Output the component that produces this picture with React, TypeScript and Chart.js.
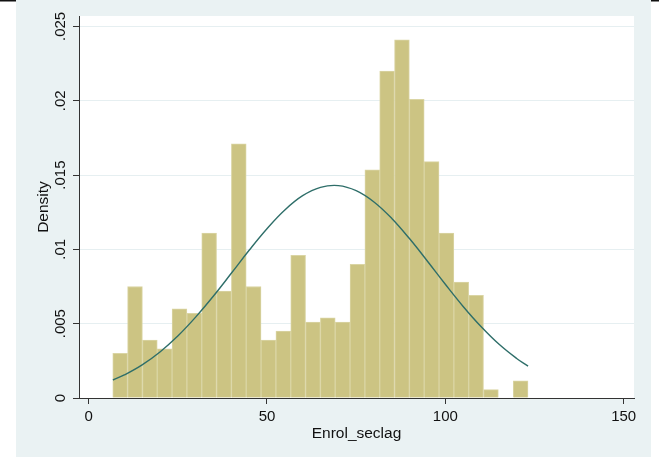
import React, { useEffect, useRef } from "react";
import { Chart, registerables } from "chart.js";

Chart.register(...registerables);

// Histogram bins (midpoints of Enrol_seclag bins) and densities
const binMids = [8.84, 13.0, 17.16, 21.31, 25.47, 29.63, 33.79, 37.95, 42.1, 46.26, 50.42, 54.58, 58.74, 62.89, 67.05, 71.21, 75.37, 79.53, 83.68, 87.84, 92.0, 96.16, 100.32, 104.47, 108.63, 112.79, 116.95, 121.11];
const binDensity = [0.0030, 0.0075, 0.0039, 0.0033, 0.0060, 0.0057, 0.0111, 0.0072, 0.0171, 0.0075, 0.0039, 0.0045, 0.0096, 0.0051, 0.0054, 0.0051, 0.0090, 0.01535, 0.0220, 0.0241, 0.0201, 0.0159, 0.0111, 0.0078, 0.0069, 0.00056, null, 0.00116];

// Normal density overlay
const curveX = [6.8, 10, 15, 20, 25, 30, 35, 40, 45, 50, 55, 60, 65, 70, 75, 80, 85, 90, 95, 100, 105, 110, 115, 120, 123.2];
const curveY = [0.00121, 0.00155, 0.00223, 0.0031, 0.00417, 0.00544, 0.00686, 0.00839, 0.00994, 0.01139, 0.01265, 0.01361, 0.01417, 0.01429, 0.01395, 0.01319, 0.01208, 0.01071, 0.0092, 0.00765, 0.00616, 0.00481, 0.00363, 0.00266, 0.00214];

const xTickValues = [0, 50, 100, 150];
const xTickLabels = ["0", "50", "100", "150"];
const yTickValues = [0, 0.005, 0.01, 0.015, 0.02, 0.025];
const yTickLabels = ["0", ".005", ".01", ".015", ".02", ".025"];
const xTitle = "Enrol_seclag";
const yTitle = "Density";

const FONT = '"Liberation Sans", Arial, Helvetica, sans-serif';
const PANEL = "#EAF2F3";

const bgPlugin = {
  id: "stataBg",
  beforeDraw(chart: any) {
    const { ctx, width, height, chartArea } = chart;
    ctx.save();
    ctx.fillStyle = "#ffffff";
    ctx.fillRect(0, 0, width, height);
    ctx.fillStyle = "#111111";
    ctx.fillRect(0, 0, width, 1.5);
    ctx.fillStyle = PANEL;
    ctx.fillRect(16, 0, 635, height);
    ctx.fillStyle = "#ffffff";
    ctx.fillRect(chartArea.left, chartArea.top, chartArea.right - chartArea.left, chartArea.bottom - chartArea.top);
    ctx.restore();
  },
};

const labelPlugin = {
  id: "stataLabels",
  afterDraw(chart: any) {
    const { ctx, chartArea } = chart;
    const xs = chart.scales.x;
    const ys = chart.scales.y;
    ctx.save();
    ctx.fillStyle = "#111111";
    ctx.font = `15px ${FONT}`;
    ctx.textAlign = "center";
    ctx.textBaseline = "alphabetic";
    xTickValues.forEach((v, i) => {
      ctx.fillText(xTickLabels[i], xs.getPixelForValue(v), 421);
    });
    yTickValues.forEach((v, i) => {
      ctx.save();
      ctx.translate(65, ys.getPixelForValue(v));
      ctx.rotate(-Math.PI / 2);
      ctx.fillText(yTickLabels[i], 0, 0);
      ctx.restore();
    });
    ctx.font = `15.5px ${FONT}`;
    ctx.fillText(xTitle, (chartArea.left + chartArea.right) / 2, 438);
    ctx.save();
    ctx.translate(47.5, (chartArea.top + chartArea.bottom) / 2);
    ctx.rotate(-Math.PI / 2);
    ctx.fillText(yTitle, 0, 0);
    ctx.restore();
    ctx.restore();
  },
};

export default function App() {
  const ref = useRef<HTMLCanvasElement | null>(null);
  useEffect(() => {
    if (!ref.current) return;
    const chart = new Chart(ref.current, {
      type: "bar",
      data: {
        datasets: [
          {
            type: "line",
            data: curveX.map((x, i) => ({ x, y: curveY[i] })),
            borderColor: "#2E6E69",
            borderWidth: 1.4,
            pointRadius: 0,
            tension: 0.4,
            fill: false,
            order: 0,
          } as any,
          {
            type: "bar",
            data: binMids.map((x, i) => ({ x, y: binDensity[i] })),
            backgroundColor: "#CCC483",
            borderColor: "#DAD5A4",
            borderWidth: 1,
            borderSkipped: "start",
            categoryPercentage: 1,
            barPercentage: 1,
            order: 1,
          } as any,
        ],
      },
      options: {
        responsive: false,
        animation: false,
        devicePixelRatio: 1,
        layout: { padding: { left: 0, top: 16, right: 25, bottom: 0 } },
        plugins: { legend: { display: false }, tooltip: { enabled: false } },
        scales: {
          x: {
            type: "linear",
            min: -2.7,
            max: 152.9,
            offset: false,
            afterFit: (s: any) => {
              s.height = 59;
            },
            afterBuildTicks: (s: any) => {
              s.ticks = xTickValues.map((value) => ({ value }));
            },
            ticks: { display: false },
            grid: {
              offset: false,
              drawOnChartArea: false,
              drawTicks: true,
              tickLength: 6,
              tickColor: "#333333",
              tickWidth: 1,
            },
            border: { display: true, color: "#333333", width: 1 },
          },
          y: {
            type: "linear",
            min: 0,
            max: 0.0257,
            afterFit: (s: any) => {
              s.width = 79;
            },
            afterBuildTicks: (s: any) => {
              s.ticks = yTickValues.map((value) => ({ value }));
            },
            ticks: { display: false },
            grid: {
              offset: false,
              color: (c: any) => (c.tick && c.tick.value === 0 ? "rgba(0,0,0,0)" : "#E6EFF1"),
              lineWidth: 1,
              drawTicks: true,
              tickLength: 6,
              tickColor: "#333333",
              tickWidth: 1,
            },
            border: { display: true, color: "#333333", width: 1 },
          },
        },
      },
      plugins: [bgPlugin, labelPlugin],
    });
    return () => chart.destroy();
  }, []);
  return (
    <div style={{ position: "fixed", left: 0, top: 0, width: 659, height: 457 }}>
      <canvas ref={ref} width={659} height={457} style={{ display: "block" }} />
    </div>
  );
}
